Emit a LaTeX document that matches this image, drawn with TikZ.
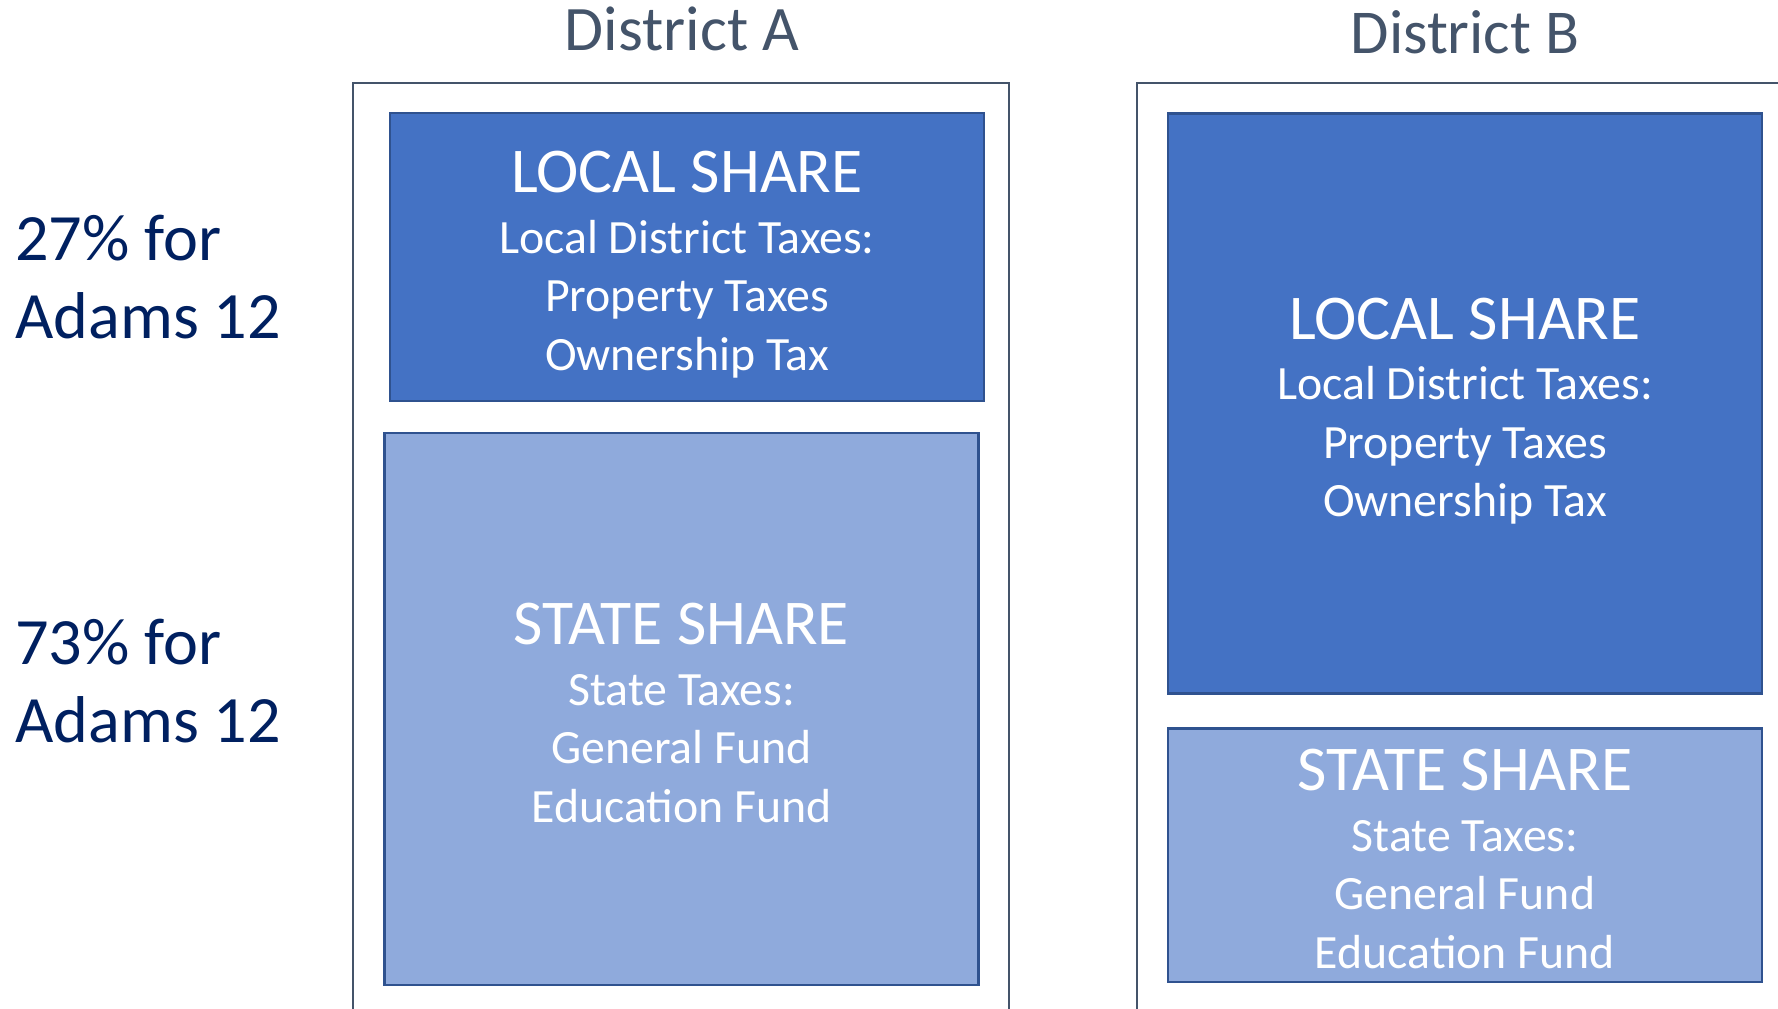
\documentclass[tikz,border=0pt]{standalone}
\usepackage{fontspec}
\setmainfont{Carlito}
\usetikzlibrary{positioning}
\definecolor{localblue}{HTML}{4472C4}
\definecolor{stateblue}{HTML}{8FAADC}
\definecolor{boxedge}{HTML}{2F528F}
\definecolor{frameslate}{HTML}{44546A}
\definecolor{labelnavy}{HTML}{002060}
\newcommand{\sharetitle}{\fontsize{31.9}{31.9}\selectfont}
\tikzset{%
	district frame/.style={
		draw=frameslate,
		line width=1pt
	},
	share box/.style={
		draw=boxedge,
		line width=1.2pt,
		minimum width=297pt,
		inner sep=0pt
	},
	local box/.style={share box, fill=localblue},
	state box/.style={share box, fill=stateblue},
	share text/.style={
		text=white,
		align=center,
		text depth=0pt,
		inner sep=0pt,
		yshift=-2pt,
		font=\fontsize{23.9}{29.25}\selectfont
	},
	side label/.style={
		text=labelnavy,
		align=left,
		text depth=0pt,
		inner sep=0pt,
		anchor=south west,
		font=\fontsize{33.1}{39}\selectfont
	},
	district title/.style={
		text=frameslate,
		anchor=base,
		inner sep=0pt
	},
}

\begin{document}
\begin{tikzpicture}[x=0.5pt, y=-0.5pt]
			\useasboundingbox (0,0) rectangle (1778,1008);
			\clip (0,0) rectangle (1778,1008);
			
			% Draw the district frames
			\draw[district frame] (352.7,82.8) rectangle (1009,1040);
			\draw[district frame] (1136.6,82.8) rectangle (1800,1040);
			
			% Labels on the left
			\node[side label] (pctlocal) at (15,339.3) {27\% for\\Adams 12};
			\node[side label] (pctstate) at (15,742.6) {73\% for\\Adams 12};
			
			% District A
			\node[district title, font=\fontsize{31.7}{31.7}\selectfont] (titleA) at (682,50) {District A};
			\node[local box, minimum height=144pt] (localA) at (687,257) {};
			\node[share text] (localAtext) at (localA.center) {{\sharetitle LOCAL SHARE}\\[1pt]Local District Taxes:\\Property Taxes\\Ownership Tax};
			\node[state box, minimum height=276pt] (stateA) at (681.5,709) {};
			\node[share text] (stateAtext) at (stateA.center) {{\sharetitle STATE SHARE}\\[1pt]State Taxes:\\General Fund\\Education Fund};
			
			% District B
			\node[district title, font=\fontsize{31.2}{31.2}\selectfont] (titleB) at (1465,53.3) {District B};
			\node[local box, minimum height=290pt] (localB) at (1465,403.3) {};
			\node[share text] (localBtext) at (localB.center) {{\sharetitle LOCAL SHARE}\\[1pt]Local District Taxes:\\Property Taxes\\Ownership Tax};
			\node[state box, minimum height=126.7pt] (stateB) at (1465,855) {};
			\node[share text] (stateBtext) at (stateB.center) {{\sharetitle STATE SHARE}\\[1pt]State Taxes:\\General Fund\\Education Fund};
			
		\end{tikzpicture}
\end{document}
